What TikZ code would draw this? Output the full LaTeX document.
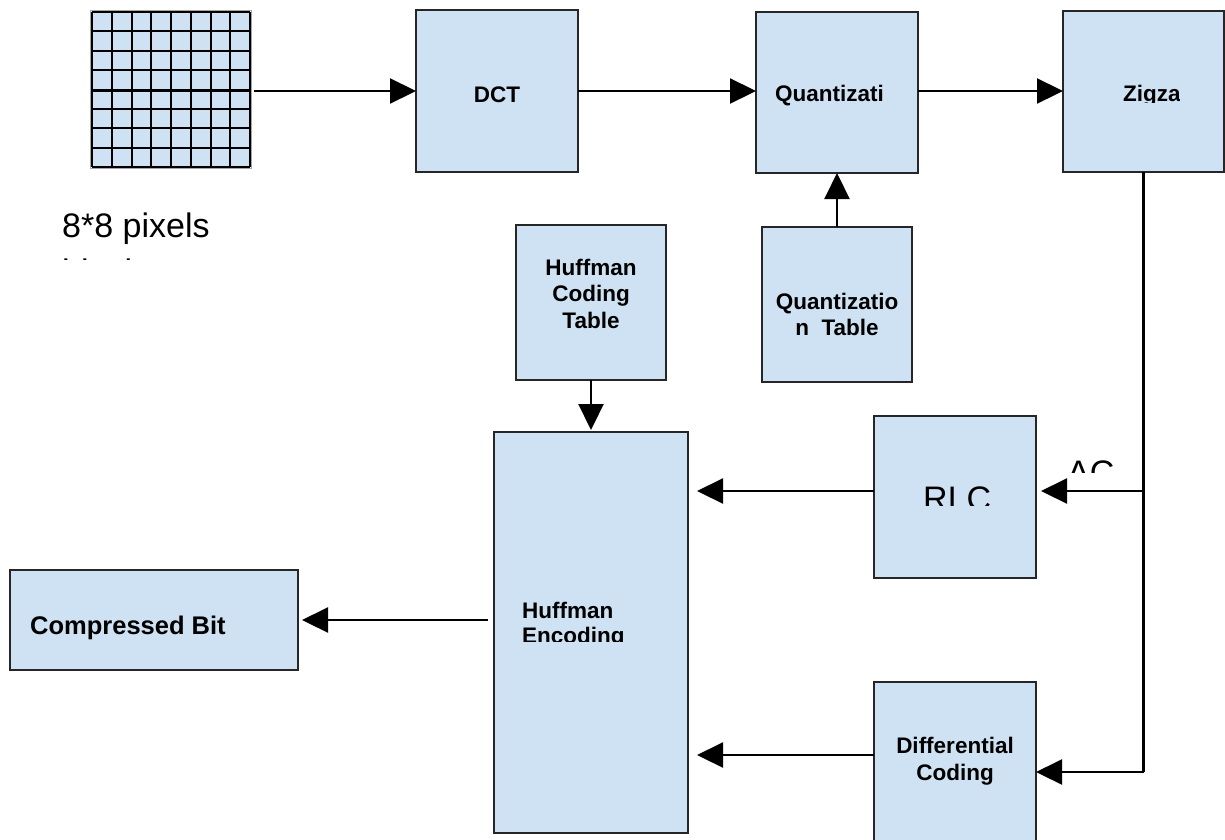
\documentclass[tikz,border=0pt]{standalone}
\usepackage{fontspec}
\setmainfont{Liberation Sans}
\usetikzlibrary{arrows.meta}
\definecolor{boxfill}{RGB}{207,226,243}
\tikzset{
  blk/.style={draw=black!85, line width=1.6pt, fill=boxfill, inner sep=0pt, outer sep=0pt},
  flow/.style={line width=2.2pt, -{Triangle[length=26pt,width=25pt]}},
  wire/.style={line width=2.2pt},
  lbl/.style={font=\fontsize{22.5}{27}\selectfont\bfseries, inner sep=0pt, anchor=base},
  lblw/.style={lbl, anchor=base west},
  big/.style={font=\fontsize{34}{40}\selectfont, inner sep=0pt, anchor=base west},
  cell/.style={line width=2pt, black}
}
\begin{document}
\begin{tikzpicture}[x=1pt,y=-1pt]
\clip (0,0) rectangle (1225,839);

% 8x8 pixel block
\node[inner sep=0pt, outer sep=0pt, minimum width=158pt, minimum height=155pt] (grid) at (171,89.5) {};
\fill[boxfill] (92,12) rectangle (250,167);
\foreach \i in {0,...,8} {
  \pgfmathsetmacro\gx{92+round(\i*19.75)}
  \pgfmathsetmacro\gy{12+round(\i*19.375)}
  \draw[cell] (\gx,12) -- (\gx,167);
  \draw[cell] (92,\gy) -- (250,\gy);
}
\draw[line width=3pt] (92,90) -- (250,90);
\draw[black!35, line width=1pt] (90.5,10.5) rectangle (251.5,168.5);

% processing blocks
\node[blk, minimum width=162pt, minimum height=162pt] (dct)   at (497,91) {};
\node[blk, minimum width=162pt, minimum height=161pt] (quant) at (837,92.5) {};
\node[blk, minimum width=161pt, minimum height=161pt] (zig)   at (1143.5,91.5) {};
\node[blk, minimum width=150pt, minimum height=155pt] (qtab)  at (837,304.5) {};
\node[blk, minimum width=150pt, minimum height=155pt] (hct)   at (591,302.5) {};
\node[blk, minimum width=194pt, minimum height=401pt] (henc)  at (591,632.5) {};
\node[blk, minimum width=162pt, minimum height=162pt] (rlc)   at (955,497) {};
\node[blk, minimum width=162pt, minimum height=168pt] (diff)  at (955,766) {};
\node[blk, minimum width=288pt, minimum height=100pt] (comp)  at (154,620) {};

% junction points
\coordinate (gridout) at (254,91);
\path (zig.south) ++(0,319) coordinate (acjoin);
\path (zig.south) ++(0,600) coordinate (dcjoin);
\path (diff.west) ++(0,-11) coordinate (diffout);
\path (henc.west) ++(-6,-12.5) coordinate (hencout);

% connectors
\draw[flow] (gridout) -- (dct.west);
\draw[flow] (dct.east) -- (dct.east -| quant.west);
\draw[flow] (quant.east |- dct.east) -- (dct.east -| zig.west);
\draw[flow] (qtab.north) -- (quant.south);
\draw[flow, shorten >=2pt] (hct.south) -- (henc.north);
\draw[wire] (zig.south) -- (dcjoin);
\draw[flow, shorten >=5pt] (acjoin) -- (acjoin -| rlc.east);
\draw[flow] (dcjoin) -- (dcjoin -| diff.east);
\draw[flow, shorten >=9pt] (acjoin -| rlc.west) -- (acjoin -| henc.east);
\draw[flow, shorten >=9pt] (diffout) -- (diffout -| henc.east);
\draw[flow, shorten >=4pt] (hencout) -- (hencout -| comp.east);

% labels
\node[lbl] (dcttxt) at (497,102) {DCT};
\begin{scope}
  \clip (756,12) rectangle (883,173);
  \node[lblw] (quanttxt) at (775,101) {Quantization};
\end{scope}
\begin{scope}
  \clip (1063,11) rectangle (1179.5,102.5);
  \node[lblw] (zigtxt) at (1123,101) {Zigzag};
\end{scope}
\node[lbl] (hct1) at (591,275) {Huffman};
\node[lbl] (hct2) at (591,301) {Coding};
\node[lbl] (hct3) at (591,328) {Table};
\node[lbl] (qt1) at (837,309) {Quantizatio};
\node[lbl] (qt2) at (837,335) {n\ \ Table};
\node[lbl] (df1) at (955,753) {Differential};
\node[lbl] (df2) at (955,780) {Coding};
\begin{scope}
  \clip (494,432) rectangle (688,641);
  \node[lblw] (he1) at (522,618) {Huffman};
  \node[lblw] (he2) at (522,643) {Encoding};
\end{scope}
\node[lblw, font=\fontsize{25.5}{30}\selectfont\bfseries] (comptxt) at (30,634) {Compressed Bit};
\node[big] (pix1) at (62,237) {8*8 pixels};
\begin{scope}
  \clip (40,240) rectangle (300,259);
  \node[big] (pix2) at (62,283) {blocks};
\end{scope}
\begin{scope}
  \clip (874,416) rectangle (1036,505);
  \node[big] (rlctxt) at (923,510) {RLC};
\end{scope}
\begin{scope}
  \clip (1040,440) rectangle (1140,472);
  \node[big] (actxt) at (1067,484) {AC};
\end{scope}
\end{tikzpicture}
\end{document}
